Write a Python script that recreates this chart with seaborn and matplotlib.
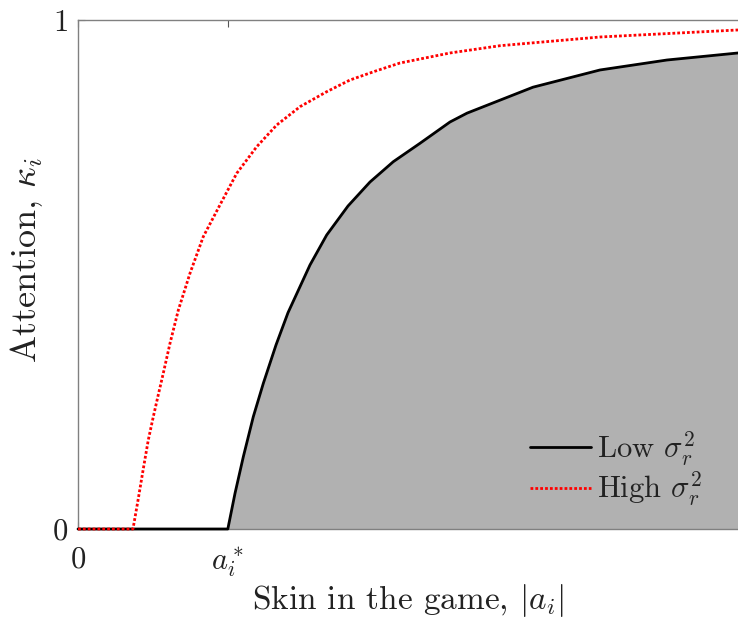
import numpy as np
import pandas as pd
import matplotlib
matplotlib.use("Agg")
import matplotlib.pyplot as plt
import seaborn as sns

# ---- data ----
a_star = 0.227
low_x = [0.0, 0.227, 0.2379, 0.2505, 0.2656, 0.2808, 0.300, 0.3182, 0.3515,
         0.3768, 0.4091, 0.4424, 0.4777, 0.5182, 0.5636, 0.5894, 0.6894,
         0.7909, 0.8924, 1.0]
low_y = [0.0, 0.0, 0.0701, 0.1420, 0.2206, 0.2862, 0.3615, 0.4250, 0.5187,
         0.5776, 0.6346, 0.6817, 0.7216, 0.7578, 0.7996, 0.8170, 0.8680,
         0.9018, 0.9214, 0.9352]
high_x = [0.0, 0.0833, 0.0914, 0.0989, 0.1065, 0.1141, 0.1217, 0.1292, 0.1394,
          0.1470, 0.1520, 0.1697, 0.1898, 0.2152, 0.2405, 0.2708, 0.3011,
          0.3364, 0.3768, 0.4121, 0.4526, 0.4879, 0.5636, 0.6394, 0.7909, 1.0]
high_y = [0.0, 0.0, 0.0600, 0.1180, 0.1749, 0.2206, 0.2640, 0.3059, 0.3648,
          0.4041, 0.4300, 0.5024, 0.5743, 0.6370, 0.6988, 0.7511, 0.7937,
          0.8297, 0.8591, 0.8821, 0.9005, 0.9155, 0.9352, 0.9495, 0.9666, 0.9804]
xtick_vals = [0.0, a_star]
xtick_labels = ["0", r"$a_i^*$"]
ytick_vals = [0, 1]
ytick_labels = ["0", "1"]
series_labels = [r"Low $\sigma_r^2$", r"High $\sigma_r^2$"]

sns.set_style("ticks")
plt.rcParams["font.family"] = ["serif"]
plt.rcParams["font.serif"] = ["cmr10", "DejaVu Serif"]
plt.rcParams["mathtext.fontset"] = "cm"
plt.rcParams["axes.formatter.use_mathtext"] = True

fig = plt.figure(figsize=(7.38, 6.21), dpi=100)
ax = fig.add_axes([78 / 738, (621 - 529) / 621, 660 / 738, 509 / 621])

lx = np.array(low_x)
ly = np.array(low_y)
mask = lx >= a_star
ax.fill_between(lx[mask], ly[mask], 0, color="#b1b1b1", linewidth=0, zorder=1)

df_low = pd.DataFrame({"x": low_x, "y": low_y})
df_high = pd.DataFrame({"x": high_x, "y": high_y})
sns.lineplot(data=df_low, x="x", y="y", ax=ax, color="black", linewidth=2.0,
             estimator=None, sort=False, label=series_labels[0], zorder=3)
sns.lineplot(data=df_high, x="x", y="y", ax=ax, color="red", linewidth=2.0,
             linestyle=(0, (1.0, 0.75)), estimator=None, sort=False,
             label=series_labels[1], zorder=4)
for ln in ax.lines:
    ln.set_clip_on(False)
    ln.set_solid_joinstyle("round")

ax.set_xlim(0, 1)
ax.set_ylim(0, 1)
ax.set_xticks(xtick_vals)
ax.set_xticklabels(xtick_labels)
ax.set_yticks(ytick_vals)
ax.set_yticklabels(ytick_labels)
ax.tick_params(direction="in", length=5, width=0.8, color="#555555",
               labelsize=22, labelcolor="#222222", top=True, right=False)
ax.tick_params(axis="x", pad=12)
ax.tick_params(axis="y", pad=7)

for side in ["left", "bottom", "top"]:
    ax.spines[side].set_color("#808080")
    ax.spines[side].set_linewidth(1.0)
ax.spines["right"].set_visible(False)

ax.set_xlabel(r"Skin in the game, $|a_i|$", fontsize=24, color="#222222")
ax.set_ylabel(r"Attention, $\kappa_i$", fontsize=26, color="#222222")
ax.xaxis.set_label_coords(0.5, -0.105)
ax.yaxis.set_label_coords(-0.05, 0.528)

leg = ax.legend(loc="center left", bbox_to_anchor=((530 - 78) / 660, 0.118),
                frameon=False, fontsize=22, handlelength=2.0,
                handletextpad=0.2, labelspacing=0.05, borderpad=0,
                borderaxespad=0)
for t in leg.get_texts():
    t.set_color("#222222")

fig.savefig("out.png", dpi=100)
